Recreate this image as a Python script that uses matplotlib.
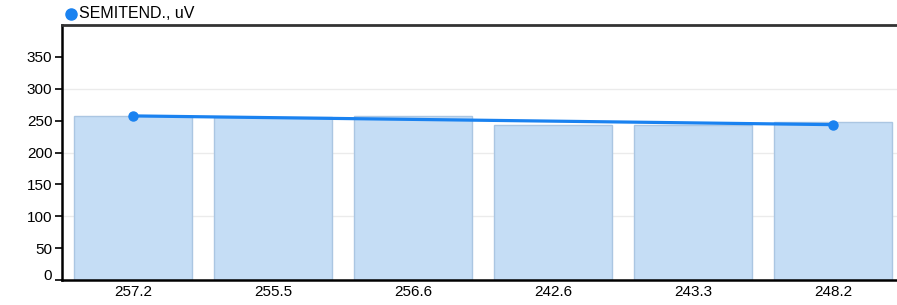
import matplotlib
matplotlib.use("Agg")
import matplotlib.pyplot as plt
from matplotlib.lines import Line2D
import matplotlib.transforms as mtransforms

categories = ["257.2", "255.5", "256.6", "242.6", "243.3", "248.2"]
values = [257.2, 255.5, 256.6, 242.6, 243.3, 248.2]
trend_values = [257.4, 243.7]   # trend line end points (first and last category)
series_name = "SEMITEND., uV"
y_ticks = [0, 50, 100, 150, 200, 250, 300, 350]

plt.rcParams['font.family'] = ['Liberation Sans', 'DejaVu Sans']

W, H = 897, 305
fig = plt.figure(figsize=(W / 100, H / 100), dpi=100)
ax = fig.add_axes([62 / W, 25 / H, (W - 62) / W, 255 / H])

x = list(range(len(values)))
ax.bar(x, values, width=0.843, color="#c5ddf5", edgecolor="#abc6e2", linewidth=1.0, zorder=2)
ax.plot([x[0], x[-1]], trend_values, color="#1a82f0", linewidth=2.3, marker="o",
        markersize=6.5, zorder=3, solid_capstyle="round")

ax.set_xlim(-0.507, 5.457)
ax.set_ylim(0, 400)
ax.set_yticks(y_ticks)
ax.set_xticks(x)
ax.set_xticklabels(categories)
for g in [100, 200, 300]:
    ax.axhline(g, color="#ebebeb", linewidth=1.0, zorder=1)

ax.tick_params(axis="y", length=5, width=1.2, pad=2, labelsize=11, colors="black")
ax.tick_params(axis="x", length=0, pad=3.5, labelsize=11)
ax.spines["right"].set_visible(False)
ax.spines["left"].set_linewidth(1.8)
ax.spines["bottom"].set_linewidth(1.8)
ax.spines["top"].set_linewidth(2.0)
ax.spines["top"].set_color("#333333")

# shift the "0" label slightly up
lbl0 = ax.get_yticklabels()[0]
lbl0.set_transform(lbl0.get_transform() + mtransforms.ScaledTranslation(0, 6 / 100, fig.dpi_scale_trans))

# legend
fig.add_artist(Line2D([71 / W], [1 - 14 / H], marker="o", color="#1a82f0", markersize=8,
                      linestyle="none", transform=fig.transFigure))
fig.text(79 / W, 1 - 14 / H, series_name, fontsize=11.5, va="center", ha="left")

fig.savefig("out.png", dpi=100)
